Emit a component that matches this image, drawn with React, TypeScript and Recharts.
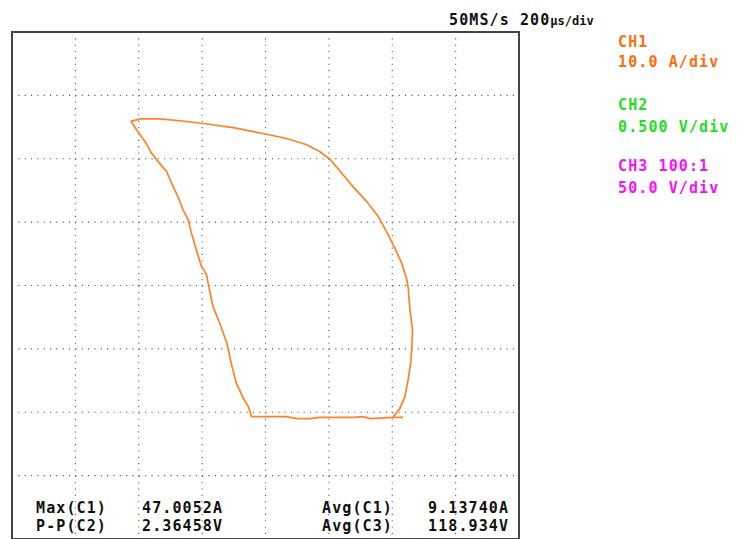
import { CartesianGrid, Line, LineChart, ReferenceArea, XAxis, YAxis } from "recharts";

// XY trace, in screen divisions from the centre of the graticule
const traceX = [
  2.01, 2.12, 2.2, 2.25, 2.29, 2.31, 2.32, 2.28, 2.25, 2.23, 2.15, 2.04, 1.91, 1.78, 1.6, 1.38,
  1.23, 1.02, 0.86, 0.65, 0.33, 0.0, -0.51, -1.01, -1.35, -1.67, -1.98, -2.12, -2.03, -1.9, -1.8,
  -1.69, -1.56, -1.48, -1.38, -1.3, -1.22, -1.17, -1.09, -1.01, -0.93, -0.9, -0.83, -0.72, -0.61,
  -0.54, -0.46, -0.35, -0.27, -0.22, -0.04, 0.33, 0.49, 0.7, 0.86, 1.38, 1.54, 1.65, 2.01, 2.17,
];
const traceY = [
  -2.08, -1.94, -1.75, -1.49, -1.23, -0.96, -0.7, -0.39, -0.02, 0.09, 0.35, 0.59, 0.85, 1.09, 1.32,
  1.56, 1.74, 1.99, 2.11, 2.22, 2.32, 2.39, 2.49, 2.56, 2.6, 2.63, 2.63, 2.59, 2.45, 2.27, 2.09,
  1.95, 1.8, 1.61, 1.4, 1.19, 1.04, 0.83, 0.56, 0.3, 0.17, 0.01, -0.33, -0.6, -0.91, -1.23, -1.54,
  -1.78, -1.91, -2.07, -2.07, -2.07, -2.1, -2.1, -2.08, -2.08, -2.07, -2.1, -2.08, -2.08,
];
const gridTicks = [-3, -2, -1, 0, 1, 2, 3];

const channels = [
  { name: "CH1", scale: "10.0 A/div", color: "#ff6c0c" },
  { name: "CH2", scale: "0.500 V/div", color: "#1fe01f" },
  { name: "CH3 100:1", scale: "50.0 V/div", color: "#f812f8" },
];
const measureLeft = [
  ["Max(C1)", "47.0052A"],
  ["P-P(C2)", "2.36458V"],
];
const measureRight = [
  ["Avg(C1)", "9.13740A"],
  ["Avg(C3)", "118.934V"],
];

const data = traceX.map((x, i) => ({ x, y: traceY[i] }));

const mono = {
  fontFamily: "'DejaVu Sans Mono', monospace",
  fontSize: 15,
  fontWeight: 600,
  letterSpacing: 1.1,
};

export default function App() {
  const chY = [
    [47, 67],
    [110, 132],
    [171, 193],
  ];
  return (
    <div style={{ position: "absolute", left: 0, top: 0, width: 738, height: 539, background: "#fff" }}>
      <LineChart
        width={738}
        height={539}
        data={data}
        margin={{ top: 32, right: 219, bottom: 0, left: 12 }}
      >
        <XAxis type="number" dataKey="x" domain={[-4, 4]} ticks={gridTicks} hide />
        <YAxis type="number" domain={[-4, 4]} ticks={gridTicks} hide />
        <CartesianGrid stroke="#555" strokeWidth={1.1} strokeDasharray="1.1 5.24" />
        <ReferenceArea
          x1={-4}
          x2={4}
          y1={-4}
          y2={4}
          fill="none"
          stroke="#444"
          strokeWidth={2}
          ifOverflow="visible"
        />
        <Line
          type="linear"
          dataKey="y"
          stroke="#ff8229"
          strokeWidth={1.7}
          dot={false}
          isAnimationActive={false}
        />
      </LineChart>
      <svg
        width={738}
        height={539}
        style={{ position: "absolute", left: 0, top: 0, pointerEvents: "none" }}
      >
        <text x={449} y={25} fill="#111" style={mono}>
          50MS/s 200
          <tspan style={{ fontSize: 12, letterSpacing: 0 }}>µs/div</tspan>
        </text>
        {channels.map((c, i) => (
          <g key={c.name} fill={c.color} style={mono}>
            <text x={618} y={chY[i][0]}>{c.name}</text>
            <text x={618} y={chY[i][1]}>{c.scale}</text>
          </g>
        ))}
        {measureLeft.map((m, i) => (
          <g key={m[0]} fill="#111" style={mono}>
            <text x={36} y={513 + i * 18}>{m[0]}</text>
            <text x={142} y={513 + i * 18}>{m[1]}</text>
          </g>
        ))}
        {measureRight.map((m, i) => (
          <g key={m[0]} fill="#111" style={mono}>
            <text x={322} y={513 + i * 18}>{m[0]}</text>
            <text x={428} y={513 + i * 18}>{m[1]}</text>
          </g>
        ))}
      </svg>
    </div>
  );
}
